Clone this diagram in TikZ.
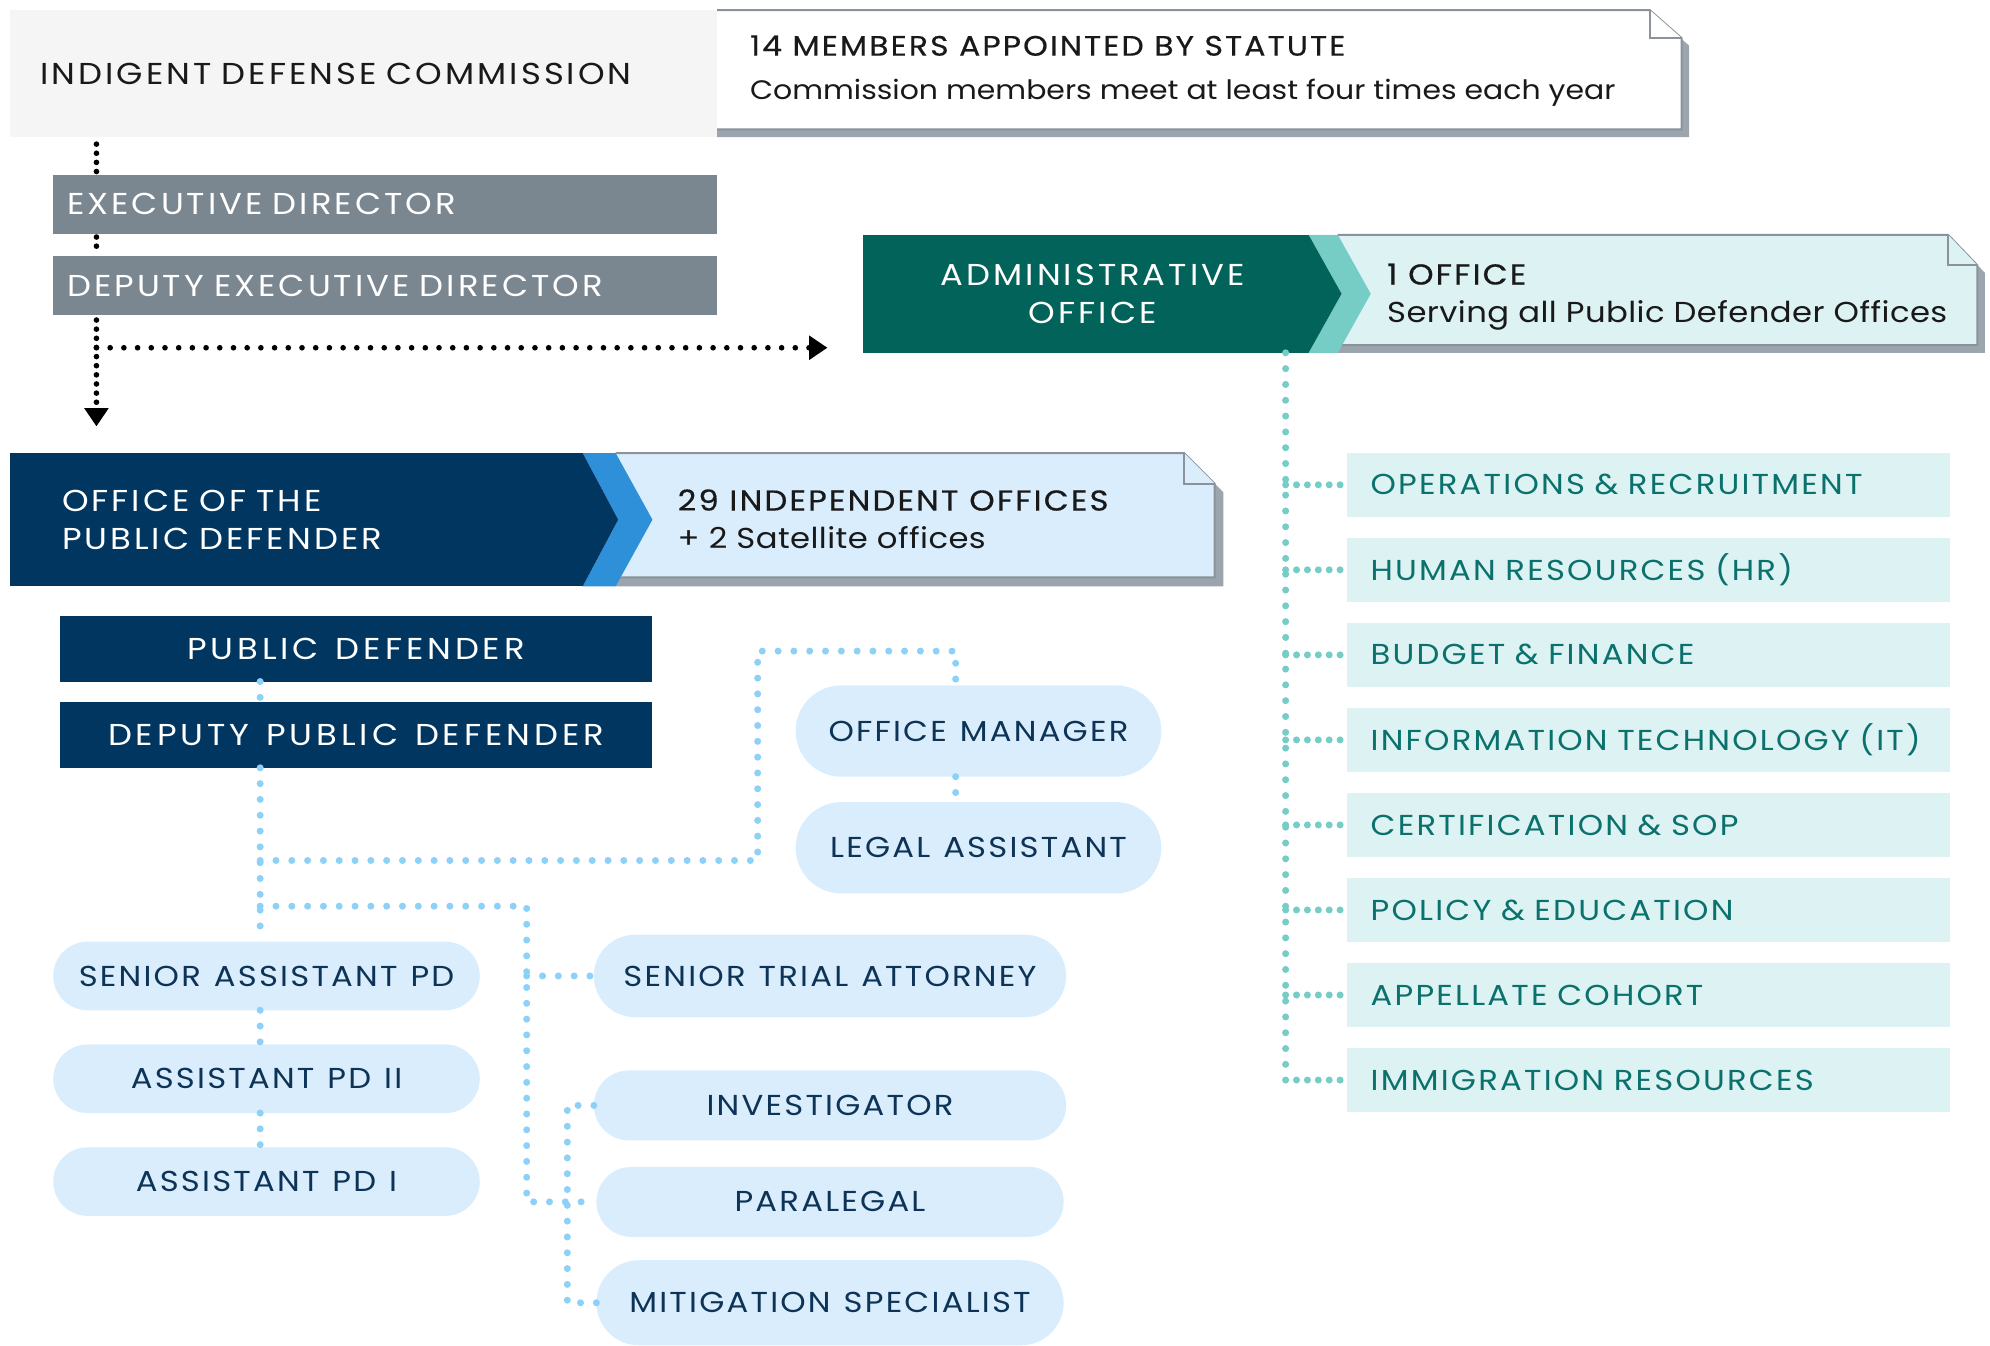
\documentclass[tikz,border=0pt]{standalone}
\usepackage{fontspec}
\setmainfont{Poppins}[FakeStretch=1.12]
\newfontfamily\widecaps{Poppins}[FakeStretch=1.12, LetterSpace=10.0, WordSpace=1.3]
\newfontfamily\pdcaps{Poppins}[FakeStretch=1.12, LetterSpace=13.0, WordSpace=1.3]
\newfontfamily\lightcaps{Poppins}[FakeStretch=1.12, LetterSpace=7.7, WordSpace=1.2]
\newfontfamily\titlefont{Poppins}[FakeStretch=1.12, LetterSpace=7.5, FakeBold=0.4]
\newfontfamily\notefont{Poppins}[FakeStretch=1.12, LetterSpace=1.5]
\newfontfamily\plainnote{Poppins}[FakeStretch=1.12]
\usetikzlibrary{shapes.misc, arrows.meta, positioning}

\definecolor{commgrey}{HTML}{F5F5F5}
\definecolor{execgrey}{HTML}{7A8690}
\definecolor{notegrey}{HTML}{8A939C}
\definecolor{shadegrey}{HTML}{9CA5AE}
\definecolor{admteal}{HTML}{02635B}
\definecolor{midteal}{HTML}{76CDC5}
\definecolor{paleteal}{HTML}{DDF2F3}
\definecolor{txtteal}{HTML}{0B716C}
\definecolor{opdnavy}{HTML}{003660}
\definecolor{midblue}{HTML}{2E90D8}
\definecolor{paleblue}{HTML}{DAEDFC}
\definecolor{txtnavy}{HTML}{0D3357}
\definecolor{dotblue}{HTML}{8DD0F8}

\newcommand\orgsize{\fontsize{8.6}{10.8}\selectfont}
\newcommand\lightsize{\fontsize{8.2}{10.8}\selectfont}

\begin{document}
\begin{tikzpicture}[
    x=0.0127cm, y=-0.0127cm,
    every node/.style={font=\lightcaps\lightsize, inner sep=0pt, outer sep=0pt},
    commbox/.style={fill=commgrey, text=black!90, font=\widecaps\orgsize,
        minimum height=1.27cm, text width=6.464cm, inner xsep=0.305cm, align=left},
    execbox/.style={fill=execgrey, text=white, font=\widecaps\orgsize,
        minimum height=0.584cm, text width=6.363cm, inner xsep=0.14cm, align=left},
    admbox/.style={fill=admteal, text=white, font=\widecaps\orgsize,
        minimum width=4.458cm, minimum height=1.181cm, align=center},
    opdbox/.style={fill=opdnavy, text=white, font=\widecaps\orgsize,
        minimum height=1.334cm, text width=4.686cm, inner xsep=0.521cm, align=left},
    notetext/.style={anchor=west, align=left, text=black!90, font=\notefont\lightsize},
    itembox/.style={fill=paleteal, text=txtteal, minimum height=0.635cm,
        text width=5.55cm, inner xsep=0.241cm, align=left},
    pdbox/.style={fill=opdnavy, text=white, font=\pdcaps\orgsize,
        minimum width=5.931cm, minimum height=0.66cm, align=center},
    pill/.style={rounded rectangle, fill=paleblue, text=txtnavy},
    bdot/.style={black, line width=1.6pt, line cap=round, dash pattern=on 0pt off 2.6pt},
    bdoth/.style={black, line width=1.6pt, line cap=round, dash pattern=on 0pt off 3.9pt},
    bdots/.style={dotblue, line width=2pt, line cap=round, dash pattern=on 0pt off 4.5pt},
    tdots/.style={midteal, line width=2pt, line cap=round, dash pattern=on 0pt off 4.5pt},
    bigtip/.style={-{Triangle[length=5.2pt, width=6.6pt]}}
]
\useasboundingbox (0,0) rectangle (1568,1060);

% commission
\node[commbox] (idc) at (286.5,58) {INDIGENT DEFENSE COMMISSION};
\fill[shadegrey] (1306,14) -- (1331,36) -- (1331,108) -- (565,108) -- (565,20) -- cycle;
\filldraw[fill=white, draw=notegrey, line width=0.55pt]
    (565,8) -- (1300,8) -- (1325,30) -- (1325,102) -- (565,102);
\filldraw[fill=white, draw=notegrey, line width=0.55pt] (1300,8) -- (1300,30) -- (1325,30);
\node[notetext, font=\plainnote\fontsize{7.6}{10.8}\selectfont] (idcnote) at (591,56)
    {{\titlefont\fontsize{8}{10.8}\selectfont 14 MEMBERS APPOINTED BY STATUTE}\\[1.8pt]Commission members meet at least four times each year};

\node[execbox] (ed) at (303.5,161) {EXECUTIVE DIRECTOR};
\node[execbox] (ded) at (303.5,225) {DEPUTY EXECUTIVE DIRECTOR};

% administrative office
\node[admbox] (adm) at (855.5,231.5) {\hspace*{4pt}ADMINISTRATIVE\\\hspace*{4pt}OFFICE};
\fill[shadegrey] (1060,191) -- (1541,191) -- (1564,215) -- (1564,278) -- (1054,278) -- cycle;
\filldraw[fill=paleteal, draw=notegrey, line width=0.55pt]
    (1054,185) -- (1535,185) -- (1558,209) -- (1558,272) -- (1057,272);
\filldraw[fill=paleteal, draw=notegrey, line width=0.55pt] (1535,185) -- (1535,209) -- (1558,209);
\fill[midteal] (adm.north east) -- ++(23,0) -- ++(26,46.5) -- ++(-26,46.5) -- ++(-23,0) -- ++(26,-46.5) -- cycle;
\fill[admteal] (adm.north east) -- ++(26,46.5) -- (adm.south east) -- cycle;
\node[notetext] (admnote) at (1093,234) {{\titlefont 1 OFFICE}\\Serving all Public Defender Offices};

% office of the public defender
\node[opdbox] (opd) at (233.5,409.5) {OFFICE OF THE\\PUBLIC DEFENDER};
\fill[shadegrey] (491,364) -- (940,364) -- (964,388) -- (964,462) -- (485,462) -- cycle;
\filldraw[fill=paleblue, draw=notegrey, line width=0.55pt]
    (485,357) -- (933,357) -- (957,381) -- (957,455) -- (489,455);
\filldraw[fill=paleblue, draw=notegrey, line width=0.55pt] (933,357) -- (933,381) -- (957,381);
\fill[midblue] (opd.north east) -- ++(26,0) -- ++(29,52.5) -- ++(-29,52.5) -- ++(-26,0) -- ++(28,-52.5) -- cycle;
\fill[opdnavy] (opd.north east) -- ++(28,52.5) -- (opd.south east) -- cycle;
\node[notetext] (opdnote) at (534,409) {{\titlefont 29 INDEPENDENT OFFICES}\\+ 2 Satellite offices};

% black links
\coordinate (ex) at (76,0);
\coordinate (adarrow) at (652,274);
\coordinate (opdarrow) at (76,336);
\draw[bdot, shorten <=2pt, shorten >=1pt] (idc.south -| ex) -- (ed.north -| ex);
\draw[bdot, shorten <=1pt, shorten >=1pt] (ed.south -| ex) -- (ded.north -| ex);
\draw[bdot, bigtip, shorten <=1.5pt] (ded.south -| ex) -- (opdarrow);
\draw[bdoth, bigtip] (ex |- adarrow) -- (adarrow);

% admin units
\foreach \t [count=\i] in {OPERATIONS \& RECRUITMENT, HUMAN RESOURCES (HR),
    BUDGET \& FINANCE, INFORMATION TECHNOLOGY (IT), CERTIFICATION \& SOP,
    POLICY \& EDUCATION, APPELLATE COHORT, IMMIGRATION RESOURCES}
    \node[itembox, anchor=west] (it\i) at (1061,315+67*\i) {\t};

\coordinate (tx) at (1013,0);
\draw[tdots] (adm.south -| tx) -- (it8.west -| tx);
\foreach \i in {1,...,8}
    \draw[tdots, dash pattern=on 0pt off 3.1pt] (it\i.west -| tx) -- (it\i.west);

% public defender office staff
\node[pdbox] (pd) at (280.5,511) {PUBLIC DEFENDER};
\node[pdbox] (dpd) at (280.5,579) {DEPUTY PUBLIC DEFENDER};

\node[pill, minimum width=4.267cm, minimum height=0.686cm] (sapd) at (210,769) {SENIOR ASSISTANT PD};
\node[pill, minimum width=4.267cm, minimum height=0.686cm] (apd2) at (210,850) {ASSISTANT PD II};
\node[pill, minimum width=4.267cm, minimum height=0.686cm] (apd1) at (210,931) {ASSISTANT PD I};
\node[pill, minimum width=3.658cm, minimum height=0.914cm] (om) at (771,576) {OFFICE MANAGER};
\node[pill, minimum width=3.658cm, minimum height=0.914cm] (la) at (771,668) {LEGAL ASSISTANT};
\node[pill, minimum width=4.724cm, minimum height=0.826cm] (sta) at (654,769) {SENIOR TRIAL ATTORNEY};
\node[pill, minimum width=4.724cm, minimum height=0.699cm] (inv) at (654,871) {INVESTIGATOR};
\node[pill, minimum width=4.674cm, minimum height=0.699cm] (para) at (654,947) {PARALEGAL};
\node[pill, minimum width=4.674cm, minimum height=0.851cm] (mit) at (654,1026.5) {MITIGATION SPECIALIST};

% blue links
\coordinate (bx) at (205,0);
\coordinate (j1) at (205,678);
\coordinate (j2) at (205,714);
\coordinate (omx) at (753,0);
\coordinate (sx) at (415,0);
\coordinate (ix) at (447,0);
\draw[bdots] (pd.south -| bx) -- (dpd.north -| bx);
\draw[bdots] (dpd.south -| bx) -- (sapd.north -| bx);
\draw[bdots] (sapd.south -| bx) -- (apd2.north -| bx);
\draw[bdots] (apd2.south -| bx) -- (apd1.north -| bx);
\draw[bdots] (j1) -- ++(392,0) -- ++(0,-165) -| (om.north -| omx);
\draw[bdots] (om.south -| omx) -- (la.north -| omx);
\draw[bdots] (j2) -- ++(210,0) |- (para.west);
\draw[bdots] (sta.west -| sx) -- (sta.west);
\draw[bdots] (inv.west) -- (inv.west -| ix) -- (mit.west -| ix) -- (mit.west);

\end{tikzpicture}
\end{document}
